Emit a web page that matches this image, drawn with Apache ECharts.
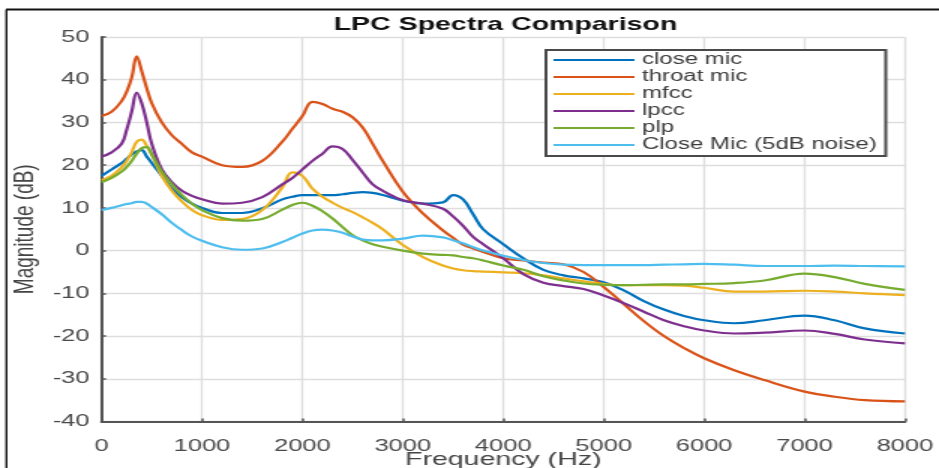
<!DOCTYPE html>
<html>
<head>
<meta charset="utf-8">
<title>LPC Spectra Comparison</title>
<script src="https://cdn.jsdelivr.net/npm/echarts@6/dist/echarts.min.js"></script>
<style>
  html, body { margin: 0; padding: 0; background: #fff; overflow: hidden; }
  /* the source figure is a MATLAB plot stretched sideways, so draw narrow and stretch */
  #chart { width: 626px; height: 468px; transform: scaleX(1.5); transform-origin: 0 0; }
</style>
</head>
<body>
<div id="chart"></div>
<script>
// ---- data ----
const freqs = [0, 100, 200, 250, 300, 350, 400, 450, 500, 600, 700, 800, 900, 1000, 1200, 1400, 1600, 1800, 1900, 2000,
  2100, 2200, 2300, 2400, 2500, 2600, 2700, 2800, 3000, 3200, 3400, 3500, 3600, 3700, 3800, 4000, 4200, 4400, 4600, 4800,
  5000, 5200, 5400, 5600, 5800, 6000, 6300, 6600, 7000, 7300, 7600, 8000];

const closeMic = [17.5, 19, 20.5, 21.5, 22.5, 23.2, 23.5, 22, 20.5, 17.5, 14.5, 12.5, 11, 10, 8.8, 8.8, 9.9, 12, 12.6, 13,
  13, 13, 13, 13.2, 13.5, 13.7, 13.5, 13, 11.7, 11, 11.3, 13, 12, 8.5, 5, 1.5, -1.8, -4.5, -5.8, -6.5,
  -7.4, -9.3, -11.8, -13.8, -15.3, -16.3, -17, -16.3, -15.2, -16.3, -18.2, -19.4];

const throatMic = [31.5, 32.5, 35, 37.2, 40.5, 45.5, 42, 38, 34.5, 30, 27, 25, 23, 22, 20, 19.6, 21, 25.5, 28.5, 31.5,
  34.8, 34.3, 33.2, 32.5, 31.2, 28.8, 25, 21, 13.8, 8.7, 4.7, 3, 1.4, 0.5, -0.3, -1.8, -2.3, -2.8, -3.2, -5,
  -8.5, -12.5, -16.5, -20, -22.8, -25.2, -28, -30.3, -33, -34.2, -35, -35.3];

const mfcc = [16.5, 17.5, 19.5, 21, 23, 25.5, 26, 24.5, 22.5, 17.5, 14, 11.5, 9.5, 8.3, 7.2, 7.4, 9.5, 14.8, 18.3, 17.5,
  14.5, 12.6, 11.2, 10, 9, 7.8, 6.5, 5, 1.3, -1.5, -3.5, -4.2, -4.6, -4.8, -4.9, -5.1, -5.3, -5.8, -6.5, -7.2,
  -7.8, -8.1, -8.1, -8.1, -8.2, -8.7, -9.6, -9.6, -9.4, -9.6, -10, -10.4];

const lpcc = [22, 23, 25, 28.3, 32.5, 37, 34.5, 30, 25, 19, 16, 14, 12.8, 12, 11, 11.2, 12.5, 15.5, 17, 19,
  21, 22.7, 24.4, 23.8, 21.2, 18.3, 15.5, 14, 11.8, 11, 9.8, 8, 5.8, 3.2, 1.5, -1.8, -5.5, -7.5, -8.3, -9,
  -10.5, -12.3, -14.3, -16.3, -17.7, -18.7, -19.4, -19.2, -18.7, -19.5, -20.8, -21.7];

const plp = [16, 17, 18.5, 19.6, 21, 22.7, 24, 24.2, 22.5, 18.5, 15.5, 13, 11, 9.5, 7.6, 7, 7.4, 9.6, 10.7, 11.2,
  10.5, 9.2, 7.5, 5.5, 3.6, 2.4, 1.5, 0.9, 0, -0.7, -1, -1.1, -1.5, -1.8, -2.3, -3.5, -4.5, -6, -7, -7.7,
  -8, -8.1, -8, -7.9, -7.9, -7.8, -7.6, -7, -5.4, -6.2, -7.8, -9.2];

const closeMicNoise = [9.5, 10, 10.6, 10.9, 11.1, 11.4, 11.4, 11, 10.2, 8.5, 6.5, 4.8, 3.3, 2.3, 0.8, 0.2, 0.5, 2, 3, 4,
  4.7, 4.9, 4.7, 4.2, 3.3, 2.6, 2.4, 2.4, 2.8, 3.5, 3.1, 2.4, 1.7, 0.8, 0, -1.2, -2.2, -2.9, -3.3, -3.4,
  -3.4, -3.4, -3.4, -3.3, -3.2, -3.1, -3.3, -3.6, -3.6, -3.5, -3.6, -3.7];

const seriesNames = ['close mic', 'throat mic', 'mfcc', 'lpcc', 'plp', 'Close Mic (5dB noise)'];
const seriesValues = [closeMic, throatMic, mfcc, lpcc, plp, closeMicNoise];
const seriesColors = ['#0072BD', '#D95319', '#EDB120', '#7E2F8E', '#77AC30', '#4DBEEE'];

const xTicks = [0, 1000, 2000, 3000, 4000, 5000, 6000, 7000, 8000];
const yTicks = [-40, -30, -20, -10, 0, 10, 20, 30, 40, 50];

// ---- chart ----
const FONT = '"Liberation Sans", Arial, Helvetica, sans-serif';
const chart = echarts.init(document.getElementById('chart'));

const axisCommon = {
  type: 'value',
  axisLine: { show: true, onZero: false, lineStyle: { color: '#555', width: 2 } },
  axisTick: { show: true, inside: true, length: 3, lineStyle: { color: '#555', width: 1.5 } },
  axisLabel: { color: '#4a4a4a', fontSize: 17, fontFamily: FONT, formatter: (v) => String(v) },
  splitLine: { show: true, lineStyle: { color: '#dedede', width: 1.3 } },
  nameLocation: 'middle',
  nameMoveOverlap: false,
  nameTextStyle: { color: '#444', fontSize: 19, fontFamily: FONT },
};

chart.setOption({
  animation: false,
  backgroundColor: '#fff',
  title: {
    text: 'LPC Spectra Comparison',
    left: 337,
    top: 15,
    padding: 0,
    textAlign: 'center',
    textStyle: { color: '#111', fontSize: 19, fontWeight: 'bold', fontFamily: FONT },
  },
  legend: {
    orient: 'vertical',
    left: 364,
    top: 50,
    padding: [2, 6, 3, 4],
    itemWidth: 54,
    itemHeight: 14,
    itemGap: 1,
    backgroundColor: '#fff',
    borderColor: '#4a4a4a',
    borderWidth: 2,
    itemStyle: { opacity: 0 },   // line samples only, no marker
    textStyle: { color: '#3c3c3c', fontSize: 16, fontFamily: FONT },
    data: seriesNames,
  },
  // x label is cropped at the bottom in the source, so don't let the grid shrink to fit it
  grid: { left: 67.7, right: 22.7, top: 37, bottom: 46.5, outerBoundsMode: 'none', containLabel: false },
  xAxis: {
    ...axisCommon,
    min: xTicks[0],
    max: xTicks[xTicks.length - 1],
    interval: 1000,
    name: 'Frequency (Hz)',
    nameGap: 29,
    axisLabel: { ...axisCommon.axisLabel, margin: 16 },
  },
  yAxis: {
    ...axisCommon,
    min: yTicks[0],
    max: yTicks[yTicks.length - 1],
    interval: 10,
    name: 'Magnitude (dB)',
    nameGap: 41,
    axisLabel: { ...axisCommon.axisLabel, margin: 8 },
  },
  graphic: [
    // figure frame (top and left edges are all that show in the crop)
    { type: 'line', silent: true, shape: { x1: 4, y1: 9.5, x2: 626, y2: 9.5 }, style: { stroke: '#111', lineWidth: 2 } },
    { type: 'line', silent: true, shape: { x1: 4.3, y1: 9.5, x2: 4.3, y2: 468 }, style: { stroke: '#111', lineWidth: 1.4 } },
  ],
  series: seriesNames.map((name, i) => ({
    name: name,
    type: 'line',
    symbol: 'none',
    smooth: 0.4,
    lineStyle: { color: seriesColors[i], width: 2.2 },
    itemStyle: { color: seriesColors[i] },
    data: freqs.map((f, j) => [f, seriesValues[i][j]]),
  })),
});
</script>
</body>
</html>
